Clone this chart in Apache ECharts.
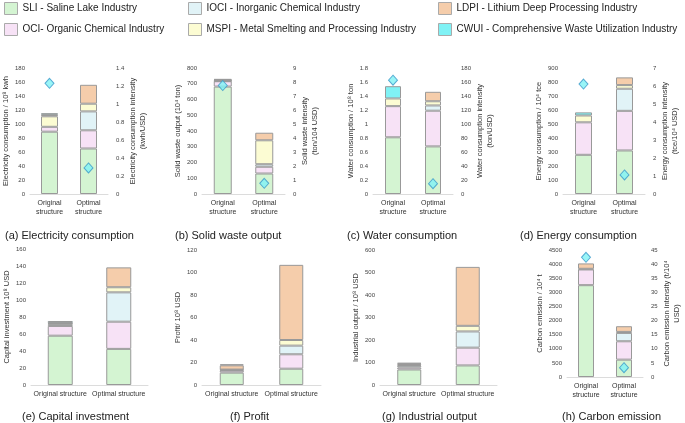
<!DOCTYPE html>
<html><head><meta charset="utf-8">
<script src="https://cdn.jsdelivr.net/npm/echarts@6/dist/echarts.min.js"></script>
<style>html,body{margin:0;padding:0;background:#fff}#c{width:685px;height:423px}</style>
</head><body><div id="c"></div>
<script>
// ---------- data ----------
const categoriesTop = ['Original\nstructure', 'Optimal\nstructure'];
const categoriesBottom = ['Original structure', 'Optimal structure'];
const industries = [
  'SLI - Saline Lake Industry',
  'OCI- Organic Chemical Industry',
  'IOCI - Inorganic Chemical Industry',
  'MSPI - Metal Smelting and Processing Industry',
  'LDPI - Lithium Deep Processing Industry',
  'CWUI - Comprehensive Waste Utilization Industry'
];
// values per industry in the order above: SLI, OCI, IOCI, MSPI, LDPI, CWUI
const electricityOriginal = [89, 7, 0, 15, 2, 2.5];
const electricityOptimal = [65, 26, 27, 11, 27, 0];
const electricityIntensity = [1.23, 0.29];
const solidWasteOriginal = [682, 34, 2, 3, 4, 5];
const solidWasteOptimal = [130, 43, 16, 152, 48, 0];
const solidWasteIntensity = [7.75, 0.76];
const waterOriginal = [0.81, 0.445, 0, 0.11, 0, 0.175];
const waterOptimal = [0.68, 0.51, 0.075, 0.06, 0.135, 0];
const waterIntensity = [162.6, 14.7];
const energyOriginal = [280, 232, 0, 49, 0, 22];
const energyOptimal = [311, 283, 158, 26, 55, 0];
const energyIntensity = [6.11, 1.06];
const capitalOriginal = [58, 11.5, 2, 1, 0.5, 2.3];
const capitalOptimal = [42.5, 32, 34.5, 6, 23.4, 0];
const profitOriginal = [11, 1.8, 0.6, 0.3, 3.8, 0.9];
const profitOptimal = [14.5, 12.8, 7.7, 5, 66.8, 0];
const outputOriginal = [69, 9, 8, 3, 6, 3];
const outputOptimal = [87, 79, 72, 25, 262, 0];
const carbonOriginal = [3254, 557, 0, 23, 190, 0];
const carbonOptimal = [615, 651, 296, 36, 201, 0];
const carbonIntensity = [42.4, 3.3];
// axis ranges [min, max, interval]
const electricityAxis = [0, 180, 20], electricityIntensityAxis = [0, 1.4, 0.2];
const solidWasteAxis = [0, 800, 100], solidWasteIntensityAxis = [0, 9, 1];
const waterAxis = [0, 1.8, 0.2], waterIntensityAxis = [0, 180, 20];
const energyAxis = [0, 900, 100], energyIntensityAxis = [0, 7, 1];
const capitalAxis = [0, 160, 20];
const profitAxis = [0, 120, 20];
const outputAxis = [0, 600, 100];
const carbonAxis = [0, 4500, 500], carbonIntensityAxis = [0, 45, 5];
const captions = ['(a) Electricity consumption', '(b) Solid waste output', '(c) Water consumption', '(d) Energy consumption',
  '(e) Capital investment', '(f) Profit', '(g) Industrial output', '(h) Carbon emission'];

// ---------- style / layout ----------
const FONT = '"Liberation Sans", Arial, sans-serif';
const colors = ['#d4f4d2', '#f7e2f6', '#e1f3f7', '#fcfcd3', '#f5cdab', '#80f2f5'];
const panels = [
  {g: {left: 30, top: 68, width: 78, height: 126}, cats: categoriesTop, bw: 17,
   ax: electricityAxis, name: 'Electricity consumption / 10⁸ kwh', gap: 19,
   rax: electricityIntensityAxis, rname: 'Electricity consumption intensity\n(kwh/USD)', rgap: 19,
   o: electricityOriginal, p: electricityOptimal, it: electricityIntensity},
  {g: {left: 202, top: 68, width: 83, height: 126}, cats: categoriesTop, bw: 18,
   ax: solidWasteAxis, name: 'Solid waste output (10⁴ ton)', gap: 16,
   rax: solidWasteIntensityAxis, rname: 'Solid waste intensity\n(ton/104 USD)', rgap: 14,
   o: solidWasteOriginal, p: solidWasteOptimal, it: solidWasteIntensity},
  {g: {left: 373, top: 68, width: 80, height: 126}, cats: categoriesTop, bw: 16,
   ax: waterAxis, name: 'Water consumption / 10⁸ ton', gap: 16,
   rax: waterIntensityAxis, rname: 'Water consumption intensity\n(ton/USD)', rgap: 21,
   o: waterOriginal, p: waterOptimal, it: waterIntensity},
  {g: {left: 563, top: 68, width: 82, height: 126}, cats: categoriesTop, bw: 17,
   ax: energyAxis, name: 'Energy consumption / 10⁴ tce', gap: 17,
   rax: energyIntensityAxis, rname: 'Energy consumption intensity\n(tce/10⁴ USD)', rgap: 13,
   o: energyOriginal, p: energyOptimal, it: energyIntensity},
  {g: {left: 31, top: 249, width: 117, height: 136}, cats: categoriesBottom, bw: 25,
   ax: capitalAxis, name: 'Capital investment 10⁸ USD', gap: 19,
   o: capitalOriginal, p: capitalOptimal},
  {g: {left: 202, top: 250, width: 119, height: 135}, cats: categoriesBottom, bw: 24,
   ax: profitAxis, name: 'Profit/ 10⁸ USD', gap: 18,
   o: profitOriginal, p: profitOptimal},
  {g: {left: 380, top: 250, width: 117, height: 135}, cats: categoriesBottom, bw: 24,
   ax: outputAxis, name: 'Industrial output / 10⁸ USD', gap: 19,
   o: outputOriginal, p: outputOptimal},
  {g: {left: 567, top: 250, width: 76, height: 127}, cats: categoriesTop, bw: 16,
   ax: carbonAxis, name: 'Carbon emission / 10⁴ t', gap: 20,
   rax: carbonIntensityAxis, rname: 'Carbon emission intensity (t/10⁴\nUSD)', rgap: 17,
   o: carbonOriginal, p: carbonOptimal, it: carbonIntensity}
];
const captionPos = [[5, 236], [175, 236], [347, 236], [520, 236], [22, 417], [230, 417], [382, 417], [562, 417]];
const legendPos = [[4, 2], [4, 23], [188, 2], [188, 23], [438, 2], [438, 23]];

const grids = [], xAxes = [], yAxes = [], series = [];
const nameStyle = {fontSize: 7.5, color: '#333', fontFamily: FONT, lineHeight: 10};
const tickStyle = {fontSize: 6, color: '#444', fontFamily: FONT, formatter: v => String(v)};
panels.forEach((p, i) => {
  grids.push(Object.assign({containLabel: false}, p.g));
  xAxes.push({gridIndex: i, type: 'category', data: p.cats,
    axisLine: {lineStyle: {color: '#dcdcdc', width: 1}}, axisTick: {show: false},
    axisLabel: {interval: 0, fontSize: 7, color: '#333', fontFamily: FONT, margin: 5, lineHeight: 9}});
  const li = yAxes.length;
  yAxes.push({gridIndex: i, type: 'value', position: 'left', min: p.ax[0], max: p.ax[1], interval: p.ax[2],
    name: p.name, nameLocation: 'middle', nameGap: p.gap, nameRotate: 90, nameTextStyle: nameStyle,
    axisLine: {show: false}, axisTick: {show: false}, splitLine: {show: false},
    axisLabel: Object.assign({margin: 5}, tickStyle)});
  let ri = null;
  if (p.rax) {
    ri = yAxes.length;
    yAxes.push({gridIndex: i, type: 'value', position: 'right', min: p.rax[0], max: p.rax[1], interval: p.rax[2],
      name: p.rname, nameLocation: 'middle', nameGap: p.rgap, nameRotate: 90, nameTextStyle: nameStyle,
      axisLine: {show: false}, axisTick: {show: false}, splitLine: {show: false},
      axisLabel: Object.assign({margin: 8}, tickStyle)});
  }
  industries.forEach((name, k) => {
    const v = [p.o[k], p.p[k]].map(x => x === 0 ? null : x);
    series.push({type: 'bar', name: name, xAxisIndex: i, yAxisIndex: li, stack: 'stk' + i,
      barWidth: p.bw, data: v,
      itemStyle: {color: colors[k], borderColor: '#999', borderWidth: 1}});
  });
  if (p.it) {
    series.push({type: 'scatter', name: 'Intensity', xAxisIndex: i, yAxisIndex: ri, data: p.it,
      symbol: 'diamond', symbolSize: [9, 10], z: 5,
      itemStyle: {color: '#80f2f5', borderColor: '#3a98c9', borderWidth: 1}});
  }
});

const legends = industries.map((name, k) => ({
  data: [name], left: legendPos[k][0], top: legendPos[k][1], padding: 0,
  icon: 'rect', itemWidth: 13, itemHeight: 12, selectedMode: false,
  itemStyle: {borderColor: '#aaa', borderWidth: 1},
  textStyle: {fontSize: 10, color: '#222', fontFamily: FONT}
}));

const graphics = captions.map((t, k) => ({
  type: 'text', x: captionPos[k][0], y: captionPos[k][1],
  style: {text: t, fontSize: 11, fontFamily: FONT, fill: '#222', verticalAlign: 'middle'}
}));

const chart = echarts.init(document.getElementById('c'), null, {renderer: 'canvas'});
chart.setOption({
  animation: false, backgroundColor: '#fff',
  grid: grids, xAxis: xAxes, yAxis: yAxes, series: series,
  legend: legends, graphic: graphics
});
</script></body></html>
